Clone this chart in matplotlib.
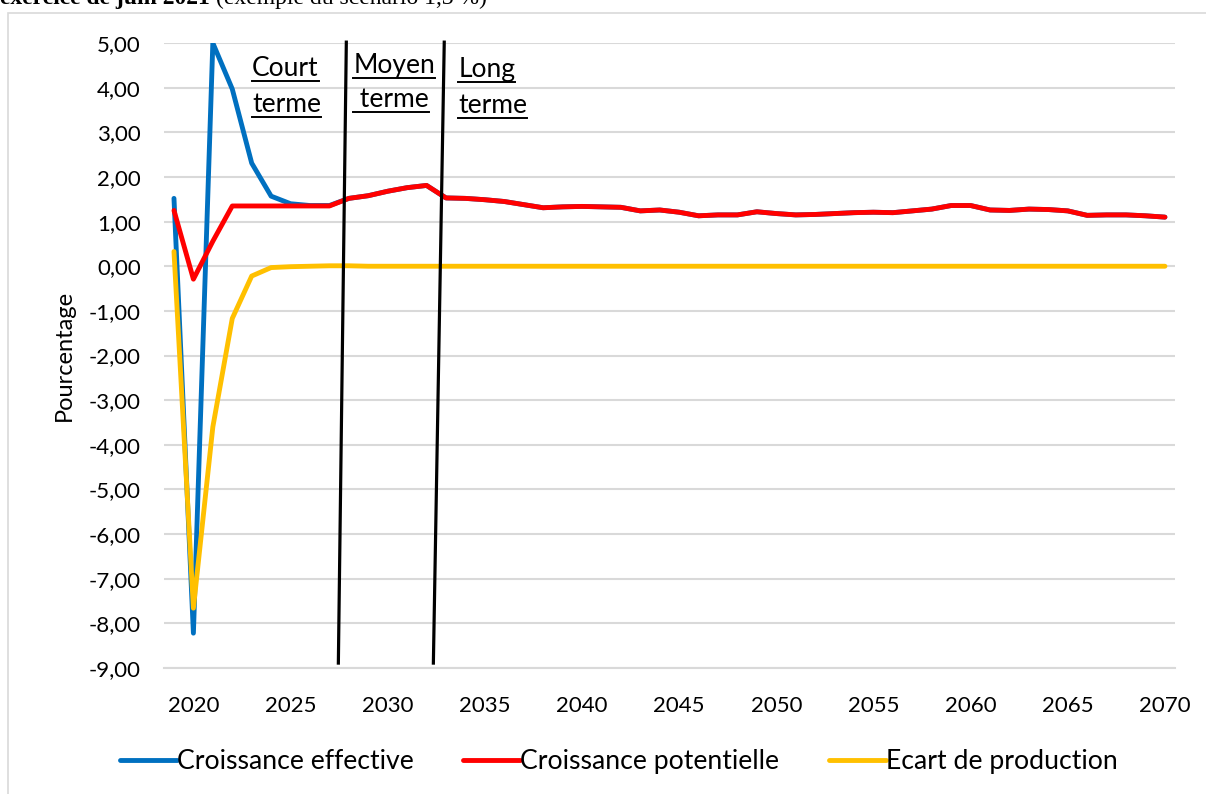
import matplotlib
matplotlib.use('Agg')
from matplotlib import pyplot as plt
from matplotlib.patches import Rectangle
from matplotlib.lines import Line2D

plt.rcParams['font.family'] = ['Lato', 'DejaVu Sans']

years = list(range(2019, 2071))
effective = [1.52, -8.22, 5.00, 3.97, 2.31, 1.57, 1.40, 1.36, 1.36,
             1.52, 1.58, 1.68, 1.76, 1.81, 1.53, 1.52, 1.49, 1.45, 1.38, 1.31,
             1.33, 1.34, 1.33, 1.32, 1.24, 1.26, 1.21, 1.13, 1.15, 1.15,
             1.22, 1.18, 1.15, 1.16, 1.18, 1.20, 1.21, 1.20, 1.24, 1.28,
             1.36, 1.36, 1.26, 1.25, 1.28, 1.27, 1.24, 1.14, 1.15, 1.15,
             1.13, 1.10]
potentielle = [1.25, -0.29, 0.56, 1.35, 1.35, 1.35, 1.35, 1.35, 1.35,
               1.52, 1.58, 1.68, 1.76, 1.81, 1.53, 1.52, 1.49, 1.45, 1.38, 1.31,
               1.33, 1.34, 1.33, 1.32, 1.24, 1.26, 1.21, 1.13, 1.15, 1.15,
               1.22, 1.18, 1.15, 1.16, 1.18, 1.20, 1.21, 1.20, 1.24, 1.28,
               1.36, 1.36, 1.26, 1.25, 1.28, 1.27, 1.24, 1.14, 1.15, 1.15,
               1.13, 1.10]
ecart = [0.33, -7.66, -3.60, -1.17, -0.22, -0.03, -0.01, 0.00, 0.01,
         0.01, 0.00, 0.00, 0.00, 0.00, 0.00, 0.00, 0.00, 0.00, 0.00, 0.00,
         0.00, 0.00, 0.00, 0.00, 0.00, 0.00, 0.00, 0.00, 0.00, 0.00,
         0.00, 0.00, 0.00, 0.00, 0.00, 0.00, 0.00, 0.00, 0.00, 0.00,
         0.00, 0.00, 0.00, 0.00, 0.00, 0.00, 0.00, 0.00, 0.00, 0.00,
         0.00, 0.00]
labels = ['Croissance effective', 'Croissance potentielle', 'Ecart de production']
colors = ['#0070C0', '#FF0000', '#FFC000']
y_ticks = list(range(-9, 6))
x_ticks = list(range(2020, 2071, 5))

# separateurs court / moyen / long terme (traits dessines a la main)
sep1 = ([2027.87, 2027.46], [5.02, -8.89])
sep2 = ([2032.91, 2032.35], [5.02, -8.89])
# etiquettes des horizons : (x, y ligne1, texte1, y ligne2, texte2)
horizons = [(2023.02, 4.26, 'Court', 3.46, 'terme'),
            (2028.23, 4.32, 'Moyen', 3.57, ' terme'),
            (2033.63, 4.23, 'Long', 3.43, 'terme')]

fig = plt.figure(figsize=(12.06, 7.94), dpi=100)
ax = fig.add_axes([0.1362, 0.1587, 0.8378, 0.7871])

for serie, lab, col in zip([effective, potentielle, ecart], labels, colors):
    ax.plot(years, serie, color=col, lw=3.5, label=lab, solid_capstyle='round',
            solid_joinstyle='round', zorder=3)

for sx, sy in [sep1, sep2]:
    ax.plot(sx, sy, color='black', lw=2.3, zorder=4, clip_on=False)

ax.set_xlim(2018.5, 2070.5)
ax.set_ylim(-9, 5)
ax.set_yticks(y_ticks)
ax.set_yticklabels(['{:.2f}'.format(v).replace('.', ',') for v in y_ticks])
ax.set_xticks(x_ticks)
ax.grid(axis='y', color='#d9d9d9', lw=1.5, zorder=0)
for s in ['left', 'right', 'top']:
    ax.spines[s].set_visible(False)
ax.spines['bottom'].set_color('#d9d9d9')
ax.spines['bottom'].set_linewidth(1.5)
ax.tick_params(axis='both', length=0, labelsize=16)
ax.tick_params(axis='y', pad=17)
ax.tick_params(axis='x', pad=20)
ax.set_ylabel('Pourcentage', fontsize=17, labelpad=9.5)

htexts = []
for hx, y1, l1, y2, l2 in horizons:
    htexts.append(ax.text(hx, y1, l1, fontsize=19, va='baseline', ha='left'))
    htexts.append(ax.text(hx, y2, l2, fontsize=19, va='baseline', ha='left'))

fig.legend(loc='center', bbox_to_anchor=(0.513, 0.041), ncol=3, frameon=False,
           fontsize=19.2, handlelength=2.13, handletextpad=0.0, columnspacing=1.87)

fig.add_artist(Rectangle((8 / 1206, -0.01), 1.1, 1.01 - 13 / 794, transform=fig.transFigure,
                         fill=False, edgecolor='#d9d9d9', lw=1.2))

t1 = fig.text(0.0, 1 - 4 / 794, 'exercice de juin 2021', fontsize=17, fontweight='bold',
              family='Liberation Serif', va='baseline', ha='left')

# soulignement des etiquettes + suite du titre
fig.canvas.draw()
r = fig.canvas.get_renderer()
W, H = fig.bbox.width, fig.bbox.height
fig.text((t1.get_window_extent(r).x1 + 6) / W, 1 - 4 / 794, '(exemple du scénario 1,3 %)',
         fontsize=17, family='Liberation Serif', va='baseline', ha='left')
for t in htexts:
    bb = t.get_window_extent(r)
    base = ax.transData.transform(t.get_position())[1]
    yy = (base - 5) / H
    fig.add_artist(Line2D([bb.x0 / W, bb.x1 / W], [yy, yy],
                          color='black', lw=1.4, transform=fig.transFigure))

fig.savefig('out.png', dpi=100)
